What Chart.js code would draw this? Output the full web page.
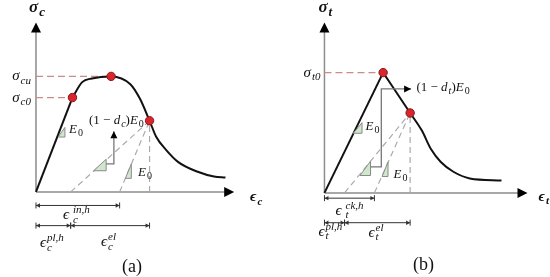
<!DOCTYPE html>
<html>
<head>
<meta charset="utf-8">
<script src="https://cdn.jsdelivr.net/npm/chart.js@4.4.0/dist/chart.umd.min.js"></script>
<style>
html, body { margin: 0; padding: 0; background: #fff; overflow: hidden; }
#wrap { position: relative; width: 550px; height: 277px; }
canvas { position: absolute; top: 0; }
</style>
</head>
<body>
<div id="wrap">
  <canvas id="cmp" width="275" height="277" style="left:0"></canvas>
  <canvas id="ten" width="275" height="277" style="left:275px"></canvas>
</div>
<script>
// ---- (a) compression, strain / stress in arbitrary units (axis ends at 10)
const compElStrain = [0, 1.84]
const compElStress = [0, 5.57]
const compStrain = [1.84, 2.33, 2.82, 3.79, 4.76, 5.24, 5.73, 6.07, 6.55, 7.18, 8.16, 8.98, 9.56]
const compStress = [5.57, 6.48, 6.70, 6.82, 6.36, 5.51, 4.20, 3.24, 2.50, 1.76, 1.19, 0.91, 0.85]
const compMarkStrain = [1.84, 3.79, 5.73]
const compMarkStress = [5.57, 6.82, 4.20]
const compPlastic = 1.75     // eps_c^pl,h
const compInelastic = 4.22   // eps_c^in,h
const compTriangles = [[1.12, 1.46, 3.24, 3.81], [2.91, 3.54, 1.25, 1.93], [4.51, 4.81, 0.80, 1.65]]
const compPointer = [[3.54, 1.65], [3.93, 1.65], [3.93, 3.58]]

// ---- (b) tension
const tenElStrain = [0, 2.89]
const tenElStress = [0, 7.06]
const tenStrain = [2.89, 4.22, 4.79, 5.26, 5.73, 6.35, 7.16, 8.72]
const tenStress = [7.06, 4.69, 3.67, 2.54, 1.81, 1.24, 0.85, 0.73]
const tenMarkStrain = [2.89, 4.22]
const tenMarkStress = [7.06, 4.69]
const tenPlastic = 0.99      // eps_t^pl,h
const tenCracking = 2.46     // eps_t^ck,h
const tenTriangles = [[1.42, 1.85, 3.50, 4.12], [1.75, 2.27, 1.02, 1.86], [2.84, 3.13, 0.96, 1.81]]
const tenPointer = [[2.27, 1.53], [2.80, 1.53], [2.80, 6.10], [4.27, 6.10]]

const AXIS_END = 10
const FAM = '"Liberation Serif", "DejaVu Serif", serif'

function pts(xs, ys) { return xs.map((x, i) => ({ x: x, y: ys[i] })) }

function P(chart, x, y) {
  return [chart.scales.x.getPixelForValue(x), chart.scales.y.getPixelForValue(y)]
}

function arrowHead(ctx, x, y, ang, len, half) {
  ctx.save()
  ctx.translate(x, y)
  ctx.rotate(ang)
  ctx.beginPath()
  ctx.moveTo(0, 0)
  ctx.lineTo(-len, -half)
  ctx.lineTo(-len, half)
  ctx.closePath()
  ctx.fill()
  ctx.restore()
}

function drawAxes(chart) {
  const ctx = chart.ctx
  const o = P(chart, 0, 0), xe = P(chart, AXIS_END, 0), ye = P(chart, 0, AXIS_END)
  ctx.save()
  ctx.strokeStyle = '#8c8c8c'
  ctx.lineWidth = 1.5
  ctx.beginPath()
  ctx.moveTo(o[0], o[1]); ctx.lineTo(xe[0] - 8, xe[1])
  ctx.moveTo(o[0], o[1]); ctx.lineTo(ye[0], ye[1] + 8)
  ctx.stroke()
  ctx.fillStyle = '#000'
  arrowHead(ctx, xe[0], xe[1], 0, 10, 5)
  arrowHead(ctx, ye[0], ye[1], -Math.PI / 2, 10, 5)
  ctx.restore()
}

function drawTriangles(chart, tris) {
  const ctx = chart.ctx
  ctx.save()
  ctx.fillStyle = '#cfe8cc'
  ctx.strokeStyle = '#8a8a8a'
  ctx.lineWidth = 1
  tris.forEach(t => {
    const a = P(chart, t[0], t[2]), b = P(chart, t[1], t[2]), c = P(chart, t[1], t[3])
    ctx.beginPath()
    ctx.moveTo(a[0], a[1]); ctx.lineTo(b[0], b[1]); ctx.lineTo(c[0], c[1]); ctx.closePath()
    ctx.fill(); ctx.stroke()
  })
  ctx.restore()
}

function drawPointer(chart, path) {
  const ctx = chart.ctx
  const p = path.map(q => P(chart, q[0], q[1]))
  ctx.save()
  ctx.strokeStyle = '#777'
  ctx.lineWidth = 1.3
  ctx.beginPath()
  ctx.moveTo(p[0][0], p[0][1])
  for (let i = 1; i < p.length; i++) ctx.lineTo(p[i][0], p[i][1])
  ctx.stroke()
  const a = p[p.length - 2], b = p[p.length - 1]
  ctx.fillStyle = '#000'
  arrowHead(ctx, b[0], b[1], Math.atan2(b[1] - a[1], b[0] - a[0]), 7, 3.5)
  ctx.restore()
}

function dimLine(chart, x1, x2, yv) {
  const ctx = chart.ctx
  const a = P(chart, x1, yv), b = P(chart, x2, yv)
  ctx.save()
  ctx.strokeStyle = '#333'
  ctx.fillStyle = '#333'
  ctx.lineWidth = 1
  ctx.beginPath()
  ctx.moveTo(a[0], a[1]); ctx.lineTo(b[0], b[1])
  ctx.moveTo(a[0], a[1] - 3); ctx.lineTo(a[0], a[1] + 3)
  ctx.moveTo(b[0], b[1] - 3); ctx.lineTo(b[0], b[1] + 3)
  ctx.stroke()
  arrowHead(ctx, a[0], a[1], Math.PI, 4, 2.2)
  arrowHead(ctx, b[0], b[1], 0, 4, 2.2)
  ctx.restore()
}

// text in runs: {t} normal text, {sub, sup} scripts stacked after it
function drawRuns(ctx, x, y, runs, size, align) {
  const small = Math.round(size * 0.74)
  const font = (r, s) => (r.b ? 'bold ' : '') + (r.it === false ? '' : 'italic ') + s + 'px ' + FAM
  function widthOf(r) {
    if (r.t === undefined) {
      ctx.font = font(r, small)
      return Math.max(r.sub ? ctx.measureText(r.sub).width : 0, r.sup ? ctx.measureText(r.sup).width : 0) + 1
    }
    ctx.font = font(r, size)
    return ctx.measureText(r.t).width
  }
  const total = runs.reduce((s, r) => s + widthOf(r), 0)
  let cx = align === 'right' ? x - total : (align === 'center' ? x - total / 2 : x)
  ctx.save()
  ctx.fillStyle = '#111'
  ctx.textAlign = 'left'
  ctx.textBaseline = 'alphabetic'
  runs.forEach(r => {
    const w = widthOf(r)
    if (r.t !== undefined) {
      ctx.fillText(r.t, cx, y)
    } else {
      if (r.sup) ctx.fillText(r.sup, cx + 1, y - size * 0.42)
      if (r.sub) ctx.fillText(r.sub, cx + 1, y + size * 0.24)
    }
    cx += w
  })
  ctx.restore()
}

function lineDs(data, extra) {
  return Object.assign({
    data: data, borderColor: '#111', borderWidth: 2, pointRadius: 0,
    fill: false, clip: false, tension: 0, order: 2
  }, extra)
}

function markDs(data) {
  return {
    data: data, showLine: false, pointRadius: 4.2, pointBorderWidth: 1,
    pointBackgroundColor: '#d9262c', pointBorderColor: '#8a1418', clip: false, order: 0
  }
}

function makeChart(id, xr, yr, datasets, draw) {
  return new Chart(document.getElementById(id), {
    type: 'line',
    data: { datasets: datasets },
    options: {
      responsive: false,
      animation: false,
      events: [],
      layout: { padding: 0 },
      scales: {
        x: { type: 'linear', min: xr[0], max: xr[1], display: false },
        y: { type: 'linear', min: yr[0], max: yr[1], display: false }
      },
      plugins: { legend: { display: false }, tooltip: { enabled: false } }
    },
    plugins: [{
      id: 'decor',
      beforeDatasetsDraw: c => drawAxes(c),
      afterDatasetsDraw: c => draw(c)
    }]
  })
}

const redDash = { borderColor: '#c98c8c', borderWidth: 1.3, borderDash: [7, 4], order: 3 }
const grayDash = { borderColor: '#ababab', borderWidth: 1.2, borderDash: [6, 4], order: 3 }

// ---------- (a)
const cPeak = compMarkStress.indexOf(Math.max(...compMarkStress))
const cDam = compMarkStrain.length - 1
makeChart('cmp', [-1.553, 11.796], [-4.716, 11.023], [
  lineDs([{ x: 0, y: compMarkStress[cPeak] }, { x: compMarkStrain[cPeak], y: compMarkStress[cPeak] }], redDash),
  lineDs([{ x: 0, y: compMarkStress[0] }, { x: compMarkStrain[0], y: compMarkStress[0] }], redDash),
  lineDs([{ x: compPlastic, y: 0 }, { x: compMarkStrain[cDam], y: compMarkStress[cDam] }], grayDash),
  lineDs([{ x: compInelastic, y: 0 }, { x: compMarkStrain[cDam], y: compMarkStress[cDam] }], grayDash),
  lineDs([{ x: compMarkStrain[cDam], y: 0 }, { x: compMarkStrain[cDam], y: compMarkStress[cDam] }], grayDash),
  lineDs(pts(compElStrain, compElStress)),
  lineDs(pts(compStrain, compStress), { cubicInterpolationMode: 'monotone' }),
  markDs(pts(compMarkStrain, compMarkStress))
], chart => {
  const ctx = chart.ctx
  drawTriangles(chart, compTriangles)
  drawPointer(chart, compPointer)
  dimLine(chart, 0, compInelastic, -0.80)
  dimLine(chart, 0, compPlastic, -1.99)
  dimLine(chart, compPlastic, compMarkStrain[cDam], -1.99)
  const o = P(chart, 0, 0)
  const yu = P(chart, 0, compMarkStress[cPeak])[1], y0 = P(chart, 0, compMarkStress[0])[1]
  drawRuns(ctx, o[0] - 5, yu + 4, [{ t: 'σ' }, { sub: 'cu' }], 15, 'right')
  drawRuns(ctx, o[0] - 5, y0 + 4, [{ t: 'σ' }, { sub: 'c0' }], 15, 'right')
  drawRuns(ctx, o[0] - 7, o[1] - 180, [{ t: 'σ', b: true }, { sub: 'c', b: true }], 17)
  drawRuns(ctx, o[0] + 214, o[1] + 9, [{ t: 'ϵ', b: true }, { sub: 'c', b: true }], 15)
  drawRuns(ctx, o[0] + 33, o[1] - 59, [{ t: 'E' }, { sub: '0', it: false }], 13)
  drawRuns(ctx, o[0] + 53, o[1] - 68, [{ t: '(1 − ', it: false }, { t: 'd' }, { sub: 'c' }, { t: ')', it: false }, { t: 'E' }, { sub: '0', it: false }], 13)
  drawRuns(ctx, o[0] + 102, o[1] - 16, [{ t: 'E' }, { sub: '0', it: false }], 13)
  drawRuns(ctx, o[0] + 27, o[1] + 27, [{ t: 'ϵ' }, { t: '\u2009', it: false }, { sup: 'in,h', sub: 'c' }], 15)
  drawRuns(ctx, o[0] + 4, o[1] + 55, [{ t: 'ϵ' }, { sup: 'pl,h', sub: 'c' }], 15)
  drawRuns(ctx, o[0] + 65, o[1] + 54, [{ t: 'ϵ' }, { sup: 'el', sub: 'c' }], 15)
  drawRuns(ctx, o[0] + 96, o[1] + 80, [{ t: '(a)', it: false }], 18, 'center')
})

// ---------- (b)
const tDam = tenMarkStrain.length - 1
makeChart('ten', [-2.18, 10.853], [-4.633, 11.017], [
  lineDs([{ x: 0, y: tenMarkStress[0] }, { x: tenMarkStrain[0], y: tenMarkStress[0] }], redDash),
  lineDs([{ x: tenPlastic, y: 0 }, { x: tenMarkStrain[tDam], y: tenMarkStress[tDam] }], grayDash),
  lineDs([{ x: tenCracking, y: 0 }, { x: tenMarkStrain[tDam], y: tenMarkStress[tDam] }], grayDash),
  lineDs([{ x: tenMarkStrain[tDam], y: 0 }, { x: tenMarkStrain[tDam], y: tenMarkStress[tDam] }], grayDash),
  lineDs(pts(tenElStrain, tenElStress)),
  lineDs(pts(tenStrain, tenStress), { cubicInterpolationMode: 'monotone' }),
  markDs(pts(tenMarkStrain, tenMarkStress))
], chart => {
  const ctx = chart.ctx
  drawTriangles(chart, tenTriangles)
  drawPointer(chart, tenPointer)
  dimLine(chart, 0, tenCracking, -0.31)
  dimLine(chart, 0, tenPlastic, -1.75)
  dimLine(chart, tenPlastic, tenMarkStrain[tDam], -1.75)
  const o = P(chart, 0, 0)
  const yt = P(chart, 0, tenMarkStress[0])[1]
  drawRuns(ctx, o[0] - 4, yt + 4, [{ t: 'σ' }, { sub: 't0' }], 15, 'right')
  drawRuns(ctx, o[0] - 6, o[1] - 181, [{ t: 'σ', b: true }, { sub: 't', b: true }], 17)
  drawRuns(ctx, o[0] + 214, o[1] + 8, [{ t: 'ϵ', b: true }, { sub: 't', b: true }], 15)
  drawRuns(ctx, o[0] + 41, o[1] - 63, [{ t: 'E' }, { sub: '0', it: false }], 13)
  drawRuns(ctx, o[0] + 92, o[1] - 102, [{ t: '(1 − ', it: false }, { t: 'd' }, { sub: 't' }, { t: ')', it: false }, { t: 'E' }, { sub: '0', it: false }], 13)
  drawRuns(ctx, o[0] + 69, o[1] - 15, [{ t: 'E' }, { sub: '0', it: false }], 13)
  drawRuns(ctx, o[0] + 11, o[1] + 22, [{ t: 'ϵ' }, { t: '\u2009', it: false }, { sup: 'ck,h', sub: 't' }], 15)
  drawRuns(ctx, o[0] - 6, o[1] + 43, [{ t: 'ϵ' }, { sup: 'pl,h', sub: 't' }], 15)
  drawRuns(ctx, o[0] + 44, o[1] + 44, [{ t: 'ϵ' }, { sup: 'el', sub: 't' }], 15)
  drawRuns(ctx, o[0] + 99, o[1] + 77, [{ t: '(b)', it: false }], 18, 'center')
})
</script>
</body>
</html>
